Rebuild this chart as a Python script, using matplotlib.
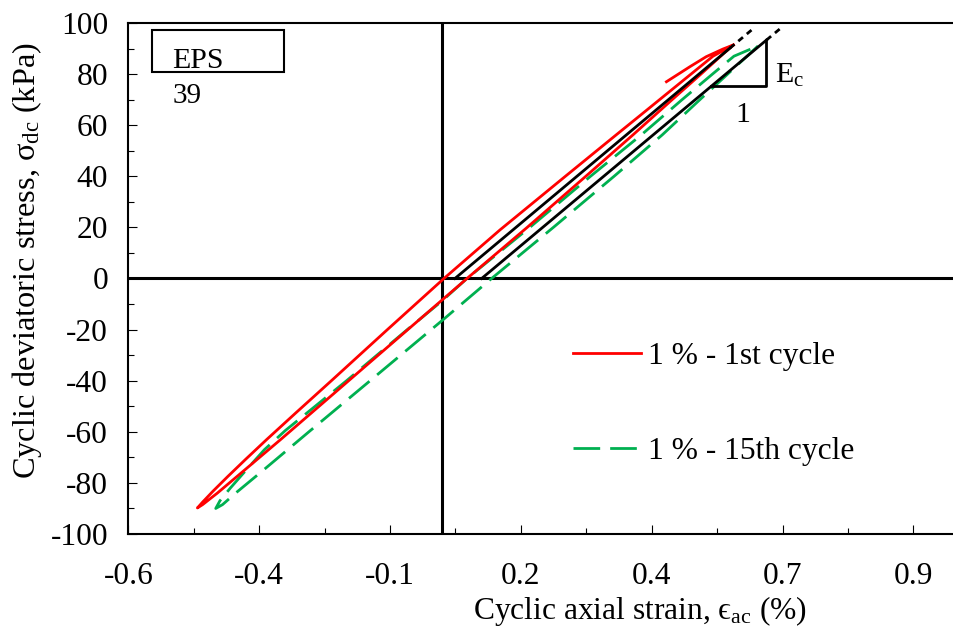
import matplotlib
matplotlib.use('Agg')
import matplotlib.pyplot as plt
from matplotlib.patches import Rectangle

plt.rcParams['font.family'] = ['Liberation Serif', 'DejaVu Serif']
plt.rcParams['mathtext.fontset'] = 'custom'
plt.rcParams['mathtext.rm'] = 'Liberation Serif'
plt.rcParams['mathtext.it'] = 'Liberation Serif:italic'
plt.rcParams['mathtext.fallback'] = 'stix'
plt.rcParams['axes.unicode_minus'] = False
plt.rcParams['font.size'] = 22.7

# 1st cycle: first loading tail, unloading branch, reloading branch
red_x = [0.428, 0.473, 0.504, 0.536, 0.556,
         0.537, 0.494, 0.439, 0.364, 0.274, 0.162, 0.047, -0.066, -0.179, -0.310, -0.378, -0.430, -0.458,
         -0.468,
         -0.458, -0.438, -0.410, -0.375, -0.335, -0.280, -0.212, -0.105, 0.003, 0.110, 0.235, 0.332,
         0.379, 0.415, 0.457, 0.475, 0.517, 0.556]
red_y = [77.0, 82.9, 86.8, 89.8, 91.4,
         88.0, 80.0, 70.0, 56.2, 40.0, 20.0, 0.0, -20.0, -40.0, -63.2, -75.0, -84.0, -88.5,
         -89.8,
         -87.5, -83.2, -77.5, -70.6, -62.9, -52.6, -40.0, -20.0, 0.0, 19.0, 40.0, 56.2,
         64.0, 70.0, 77.0, 80.0, 87.0, 91.4]

# 15th cycle
green_x = [0.603,
           0.545, 0.492, 0.420, 0.328, 0.212, 0.094, 0.005, -0.138, -0.255, -0.342, -0.395, -0.420,
           -0.433,
           -0.425, -0.405, -0.375, -0.340, -0.300, -0.183, -0.067, -0.002, 0.047, 0.167, 0.283, 0.380,
           0.458, 0.516, 0.557, 0.603]
green_y = [91.0,
           80.0, 70.0, 56.2, 40.0, 20.0, 0.0, -15.5, -40.0, -60.0, -75.0, -84.0, -88.5,
           -90.0,
           -87.0, -82.0, -75.0, -67.0, -59.5, -40.0, -20.0, -9.0, 0.0, 20.0, 40.0, 56.2,
           70.0, 80.0, 87.0, 91.0]

# Ec secant lines
ec1_x = [0.024, 0.549]
ec1_y = [0.0, 90.1]
ec1_ext_x = [0.549, 0.591]
ec1_ext_y = [90.1, 97.3]
ec2_x = [0.075, 0.619]
ec2_y = [0.0, 93.3]
ec2_ext_x = [0.619, 0.646]
ec2_ext_y = [93.3, 97.9]
tri_x = [0.514, 0.619, 0.619]
tri_y = [75.2, 75.2, 93.3]

x_ticks = [-0.6, -0.35, -0.1, 0.15, 0.4, 0.65, 0.9]
x_tick_labels = ['-0.6', '-0.4', '-0.1', '0.2', '0.4', '0.7', '0.9']
x_minor = [-0.475, -0.225, 0.025, 0.275, 0.525, 0.775]
y_ticks = list(range(-100, 101, 20))
y_minor = list(range(-90, 100, 20))

fig = plt.figure(figsize=(9.54, 6.33), dpi=100)
ax = fig.add_axes([0.1345, 0.1564, 0.8779, 0.8073])

ax.axhline(0, color='black', lw=2.2, zorder=1)
ax.axvline(0, color='black', lw=2.2, zorder=1)

ax.plot(green_x, green_y, color='#00B050', lw=2, dashes=(9.6, 3.6), label='1 % - 15th cycle', zorder=2)
ax.plot(red_x, red_y, color='#FF0000', lw=2, label='1 % - 1st cycle', zorder=3)

ax.plot(ec1_x, ec1_y, color='black', lw=2, zorder=4)
ax.plot(ec1_ext_x, ec1_ext_y, color='black', lw=2, dashes=(2.2, 1.8), zorder=4)
ax.plot(ec2_x, ec2_y, color='black', lw=2, zorder=4)
ax.plot(ec2_ext_x, ec2_ext_y, color='black', lw=2, dashes=(2.2, 1.8), zorder=4)
ax.plot(tri_x, tri_y, color='black', lw=2, zorder=4)

ax.text(0.635, 76.4, r'E$_{\mathrm{c}}$', ha='left', va='baseline', fontsize=21.5)
ax.text(0.573, 61.2, '1', ha='center', va='baseline', fontsize=21.5)

ax.add_patch(Rectangle((-0.554, 80.9), 0.251, 16.4, fill=False, ec='black', lw=1.5, zorder=5))
ax.text(-0.516, 82.4, 'EPS', ha='left', va='baseline', fontsize=21.5)
ax.text(-0.516, 68.7, '39', ha='left', va='baseline', fontsize=21)

ax.set_xlim(-0.6, 1.0)
ax.set_ylim(-100, 100)
ax.set_xticks(x_ticks)
ax.set_xticklabels(x_tick_labels)
ax.set_xticks(x_minor, minor=True)
ax.set_yticks(y_ticks)
ax.set_yticks(y_minor, minor=True)
ax.tick_params(which='major', direction='in', length=6.5, width=0.8)
ax.tick_params(which='minor', direction='in', length=4, width=0.8)
ax.tick_params(axis='x', which='major', pad=20)
ax.tick_params(axis='y', which='major', pad=14.5)

for s in ax.spines.values():
    s.set_linewidth(1.5)

ax.set_xlabel('Cyclic axial strain, $\\mathrm{\u03f5}_{\\mathrm{ac}}$ (%)', labelpad=2)
ax.xaxis.label.set_x(0.611)
ax.set_ylabel(r'Cyclic deviatoric stress, $\mathrm{\sigma}_{\mathrm{dc}}$ (kPa)', labelpad=5,
              fontsize=23.3)
ax.yaxis.label.set_y(0.535)

handles, labels = ax.get_legend_handles_labels()
ax.legend(handles[::-1], labels[::-1], loc='upper left', bbox_to_anchor=(0.531, 0.376),
          frameon=False, borderpad=0, borderaxespad=0, handlelength=2.17,
          handletextpad=0.2, labelspacing=2.08)

fig.savefig('out.png', dpi=100)
